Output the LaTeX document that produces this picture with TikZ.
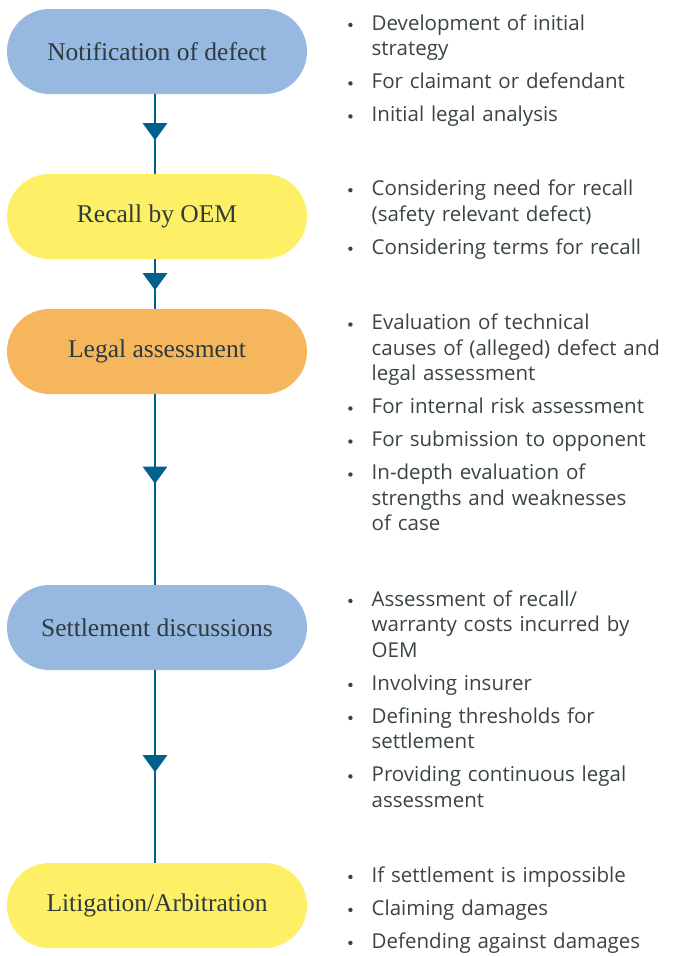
\documentclass[tikz,border=0pt]{standalone}
\usepackage{fontspec}
\setmainfont{Liberation Serif}
\newfontfamily\osans{Open Sans}
\usetikzlibrary{arrows.meta,decorations.markings,shapes.misc}
\definecolor{boxblue}{HTML}{97B8E1}
\definecolor{boxyellow}{HTML}{FEF066}
\definecolor{boxorange}{HTML}{F6B65D}
\definecolor{flowline}{HTML}{00628C}
\definecolor{boxtext}{HTML}{2E3B3E}
\definecolor{bultext}{HTML}{3A4446}
\newcommand\bdot{\tikz[baseline={(0pt,-5.3pt)}]\fill[bultext] (0pt,0pt) circle (2.2pt);}
\newcommand\bitem[1]{\hangindent=23.5pt\hangafter=1\noindent\strut\makebox[23.5pt][l]{\bdot}#1\par}
\tikzset{
  stage/.style={rounded rectangle, minimum width=300pt, minimum height=85pt,
    inner sep=0pt, text=boxtext, font=\fontsize{25.5}{30}\selectfont},
  flow/.style={draw=flowline, line width=2.7pt},
  midtri/.style={postaction={decorate}, decoration={markings,
    mark=at position #1 with {\arrow[flowline]{Triangle[width=24pt,length=17pt]}}}},
  bullets/.style={anchor=north west, inner sep=0pt, text width=330pt, align=left,
    text=bultext, font=\osans\fontsize{20.5}{25.5}\selectfont,
    execute at begin node={\setlength\parskip{7.5pt}}}
}
\begin{document}
\begin{tikzpicture}[x=1pt,y=-1pt]
\useasboundingbox[fill=white] (0,0) rectangle (675,956);
\node[stage, fill=boxblue] (b1) at (157,51.5) {Notification of defect};
\node[stage, fill=boxyellow] (b2) at (157,216.5) {Recall by OEM};
\node[stage, fill=boxorange] (b3) at (157,351.5) {Legal assessment};
\node[stage, fill=boxblue] (b4) at (157,627.5) {Settlement discussions};
\node[stage, fill=boxyellow] (b5) at (157,905.5) {Litigation/Arbitration};

\draw[flow, midtri=46pt] ([xshift=-2pt]b1.south) -- ([xshift=-2pt]b2.north);
\draw[flow, midtri=31pt] ([xshift=-2pt]b2.south) -- ([xshift=-2pt]b3.north);
\draw[flow, midtri=89.5pt] ([xshift=-2pt]b3.south) -- ([xshift=-2pt]b4.north);
\draw[flow, midtri=102pt] ([xshift=-2pt]b4.south) -- ([xshift=-2pt]b5.north);

\node[bullets] (t1) at (348,12.15) {%
\bitem{Development of initial\newline strategy}%
\bitem{For claimant or defendant}%
\bitem{Initial legal analysis}};
\node[bullets] (t2) at (348,177.45) {%
\bitem{Considering need for recall\newline (safety relevant defect)}%
\bitem{Considering terms for recall}};
\node[bullets] (t3) at (348,311.75) {%
\bitem{Evaluation of technical\newline causes of (alleged) defect and\newline legal assessment}%
\bitem{For internal risk assessment}%
\bitem{For submission to opponent}%
\bitem{In-depth evaluation of\newline strengths and weaknesses\newline of case}};
\node[bullets] (t4) at (348,588.15) {%
\bitem{Assessment of recall/\newline warranty costs incurred by\newline OEM}%
\bitem{Involving insurer}%
\bitem{Defining thresholds for\newline settlement}%
\bitem{Providing continuous legal\newline assessment}};
\node[bullets] (t5) at (348,864.15) {%
\bitem{If settlement is impossible}%
\bitem{Claiming damages}%
\bitem{Defending against damages}};
\end{tikzpicture}
\end{document}
